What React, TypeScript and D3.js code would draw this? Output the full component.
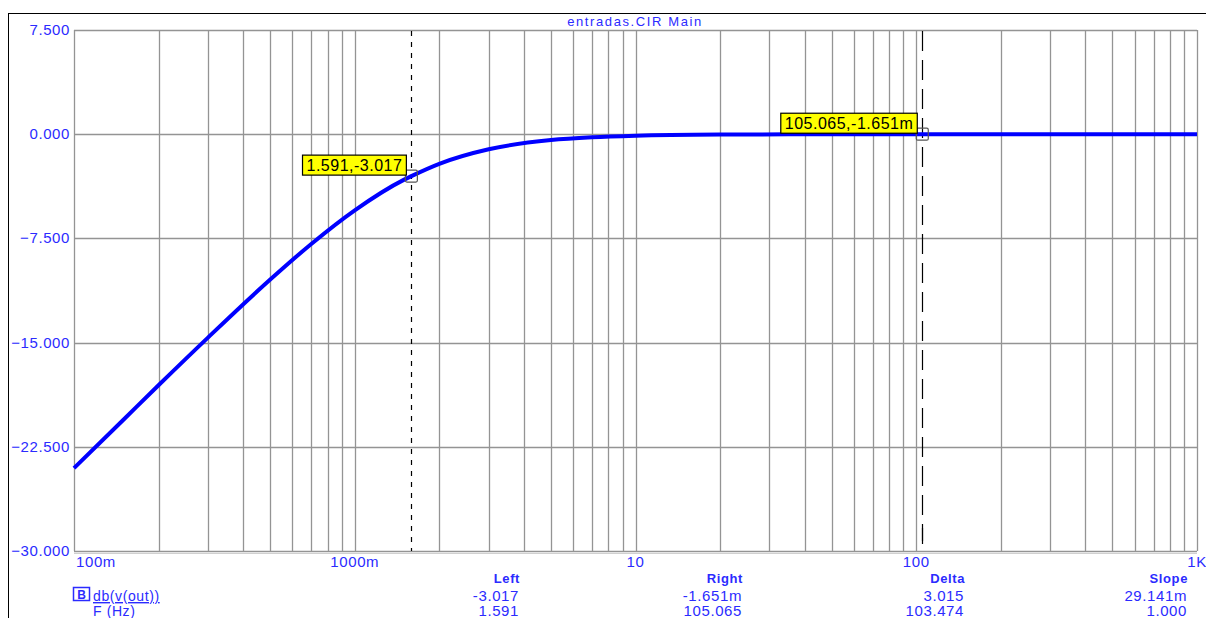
import React, { useEffect, useRef } from "react"
import * as d3 from "d3"

// curve samples (Hz, dB)
const freqs = [0.1, 0.15, 0.2, 0.3, 0.5, 0.7, 1, 1.5, 1.591, 2, 3, 5, 7, 10, 20, 50, 100, 200, 500, 1000]
const gains = [-24.04, -20.55, -18.07, -14.64, -10.46, -7.9, -5.48, -3.27, -3.017, -2.13, -1.08, -0.42, -0.22, -0.11, -0.03, -0.004, -0.0017, 0, 0, 0]

const yTicks = [7.5, 0, -7.5, -15, -22.5, -30]
const xTickVals = [0.1, 1, 10, 100, 1000]
const xTickLabels = ["100m", "1000m", "10", "100", "1K"]

const cursors = [
  { f: 1.591, v: -3.017, label: "1.591,-3.017", dash: "5,6" },
  { f: 105.065, v: -0.001651, label: "105.065,-1.651m", dash: "20,9" },
]

const tableHeads = ["Left", "Right", "Delta", "Slope"]
const tableRow1 = ["-3.017", "-1.651m", "3.015", "29.141m"]
const tableRow2 = ["1.591", "105.065", "103.474", "1.000"]

const BLUE = "#2b2bff"

export default function App() {
  const ref = useRef<SVGSVGElement>(null)

  useEffect(() => {
    const svg = d3.select(ref.current)
    svg.selectAll("*").remove()

    const left = 74, right = 1197, top = 30, bottom = 551
    const x = d3.scaleLog().domain([0.1, 1000]).range([left, right])
    const y = d3.scaleLinear().domain([-30, 7.5]).range([bottom, top])

    svg.append("rect").attr("width", 1206).attr("height", 618).attr("fill", "#fff")

    // outer frame
    svg.append("line").attr("x1", 8).attr("x2", 1206).attr("y1", 13.5).attr("y2", 13.5)
      .attr("stroke", "#000").attr("stroke-width", 1)
    svg.append("line").attr("x1", 8.5).attr("x2", 8.5).attr("y1", 13).attr("y2", 618)
      .attr("stroke", "#000").attr("stroke-width", 1)

    const font = "Arial, 'Liberation Sans', sans-serif"

    svg.append("text").attr("x", 635).attr("y", 26).attr("text-anchor", "middle")
      .attr("font-family", font).attr("font-size", 13).attr("letter-spacing", 1.6)
      .attr("fill", BLUE).text("entradas.CIR Main")

    // grid
    const g = svg.append("g")
    const minor: number[] = []
    for (let dec = 0.1; dec < 1000; dec *= 10)
      for (let k = 1; k <= 9; k++) minor.push(+(dec * k).toPrecision(3))
    minor.push(1000)
    g.selectAll("line.v").data(minor).enter().append("line")
      .attr("x1", d => Math.round(x(d)) + 0.5).attr("x2", d => Math.round(x(d)) + 0.5)
      .attr("y1", top).attr("y2", bottom)
      .attr("stroke", "#949494").attr("stroke-width", 1.3)
    g.selectAll("line.h").data(yTicks).enter().append("line")
      .attr("x1", left).attr("x2", right)
      .attr("y1", d => Math.round(y(d)) + 0.5).attr("y2", d => Math.round(y(d)) + 0.5)
      .attr("stroke", "#949494").attr("stroke-width", 1.3)
    g.append("line").attr("x1", left).attr("x2", right).attr("y1", bottom + 2.5).attr("y2", bottom + 2.5)
      .attr("stroke", "#d0d0d0").attr("stroke-width", 1)

    // y labels
    svg.selectAll("text.yl").data(yTicks).enter().append("text")
      .attr("x", 70).attr("y", d => y(d) + 5).attr("text-anchor", "end")
      .attr("font-family", font).attr("font-size", 15).attr("letter-spacing", 0.6).attr("fill", BLUE)
      .text(d => d3.format(".3f")(d))

    // x labels
    svg.selectAll("text.xl").data(xTickVals).enter().append("text")
      .attr("x", (d, i) => i === 0 ? x(d) + 2 : x(d))
      .attr("y", 567)
      .attr("text-anchor", (d, i) => i === 0 ? "start" : "middle")
      .attr("font-family", font).attr("font-size", 15).attr("letter-spacing", 0.6).attr("fill", BLUE)
      .text((d, i) => xTickLabels[i])

    // cursors
    cursors.forEach(c => {
      const cx = Math.round(x(c.f)) + 0.5
      svg.append("line").attr("x1", cx).attr("x2", cx).attr("y1", top + 1).attr("y2", bottom)
        .attr("stroke", "#000").attr("stroke-width", 1.2).attr("stroke-dasharray", c.dash)
    })
    // short solid tick on right cursor near the axis
    const rc = Math.round(x(cursors[1].f)) + 0.5
    svg.append("line").attr("x1", rc).attr("x2", rc).attr("y1", 528).attr("y2", 541)
      .attr("stroke", "#000").attr("stroke-width", 1.2)

    // curve
    const pts = freqs.map((f, i) => [f, gains[i]] as [number, number])
    svg.append("path").datum(pts)
      .attr("d", d3.line<[number, number]>().x(d => x(d[0])).y(d => y(d[1])).curve(d3.curveMonotoneX))
      .attr("fill", "none").attr("stroke", "#0000ff").attr("stroke-width", 4)

    // marker squares and labels
    cursors.forEach(c => {
      const cx = x(c.f), cy = y(c.v)
      svg.append("rect").attr("x", cx - 6).attr("y", cy - 6).attr("width", 12).attr("height", 12)
        .attr("rx", 1.5).attr("fill", "none").attr("stroke", "#555").attr("stroke-width", 1.2)
      const t = svg.append("text").attr("font-family", font).attr("font-size", 16)
        .attr("letter-spacing", 0.5).attr("fill", "#000")
        .text(c.label)
      const w = (t.node() as SVGTextElement).getComputedTextLength() + 8
      const bx = cx - 6 - w + 1, by = cy - 21
      svg.insert("rect", () => t.node() as any)
        .attr("x", bx).attr("y", by).attr("width", w).attr("height", 20)
        .attr("fill", "#ffff00").attr("stroke", "#000").attr("stroke-width", 1.2)
      t.attr("x", bx + 4).attr("y", by + 16)
    })

    // table
    const colX = [520, 743, 965, 1188]
    tableHeads.forEach((h, i) => {
      svg.append("text").attr("x", colX[i]).attr("y", 583).attr("text-anchor", "end")
        .attr("font-family", font).attr("font-size", 13).attr("font-weight", "bold")
        .attr("letter-spacing", 0.6).attr("fill", BLUE).text(h)
    })
    tableRow1.forEach((v, i) => {
      svg.append("text").attr("x", colX[i] - 1).attr("y", 601).attr("text-anchor", "end")
        .attr("font-family", font).attr("font-size", 15).attr("letter-spacing", 0.6)
        .attr("fill", BLUE).text(v)
    })
    tableRow2.forEach((v, i) => {
      svg.append("text").attr("x", colX[i] - 1).attr("y", 616).attr("text-anchor", "end")
        .attr("font-family", font).attr("font-size", 15).attr("letter-spacing", 0.6)
        .attr("fill", BLUE).text(v)
    })
    svg.append("rect").attr("x", 73.5).attr("y", 587.5).attr("width", 16).attr("height", 13)
      .attr("fill", "none").attr("stroke", BLUE).attr("stroke-width", 1.5)
    svg.append("text").attr("x", 81.5).attr("y", 599).attr("text-anchor", "middle")
      .attr("font-family", font).attr("font-size", 12).attr("font-weight", "bold")
      .attr("fill", BLUE).text("B")
    svg.append("text").attr("x", 93).attr("y", 601)
      .attr("font-family", font).attr("font-size", 14).attr("letter-spacing", 0.6).attr("fill", BLUE)
      .attr("text-decoration", "underline").text("db(v(out))")
    svg.append("text").attr("x", 93).attr("y", 616)
      .attr("font-family", font).attr("font-size", 14).attr("letter-spacing", 0.6)
      .attr("fill", BLUE).text("F (Hz)")
  }, [])

  return (
    <svg ref={ref} width={1206} height={618}
      style={{ position: "absolute", left: 0, top: 0, display: "block" }} />
  )
}
